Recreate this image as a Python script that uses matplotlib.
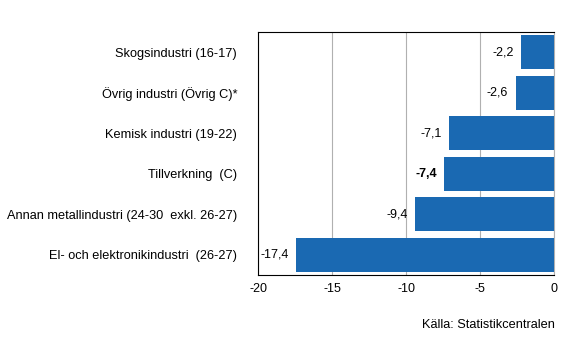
import matplotlib.pyplot as plt

plt.rcParams['font.family'] = ['Liberation Sans', 'DejaVu Sans']

# Data (top to bottom) ---------------------------------------------------------
categories = [
    "Skogsindustri (16-17)",
    "Övrig industri (Övrig C)*",
    "Kemisk industri (19-22)",
    "Tillverkning  (C)",
    "Annan metallindustri (24-30  exkl. 26-27)",
    "El- och elektronikindustri  (26-27)",
]
values = [-2.2, -2.6, -7.1, -7.4, -9.4, -17.4]
labels = ["-2,2", "-2,6", "-7,1", "-7,4", "-9,4", "-17,4"]
bold_label = "Tillverkning  (C)"

xticks = [-20, -15, -10, -5, 0]

# Plot -------------------------------------------------------------------------
fig = plt.figure(figsize=(5.66, 3.61), dpi=100)
ax = fig.add_axes([258 / 566, 1 - 275 / 361, 296 / 566, 243 / 361])

pos = list(range(len(categories)))
ax.barh(pos, values, height=0.84, color="#1a69b2", zorder=3)

for p, v, lab, cat in zip(pos, values, labels, categories):
    ax.text(v - 0.5, p, lab, ha="right", va="center", fontsize=9,
            fontweight="bold" if cat == bold_label else "normal")

ax.set_xlim(-20, 0)
ax.set_ylim(len(categories) - 0.5, -0.5)
ax.set_yticks(pos)
ax.set_yticklabels(categories, fontsize=9.2)
ax.set_xticks(xticks)
ax.set_xticklabels([str(t) for t in xticks], fontsize=9)
ax.tick_params(length=0, pad=6)
ax.tick_params(axis="y", pad=15)

ax.grid(axis="x", color="#b0b0b0", lw=0.8, zorder=0)
for s in ["left", "bottom", "top"]:
    ax.spines[s].set_color("black")
    ax.spines[s].set_linewidth(0.8)
ax.spines["right"].set_color("#b0b0b0")
ax.spines["right"].set_linewidth(0.8)

fig.text(555 / 566, 1 - 325 / 361, "Källa: Statistikcentralen", ha="right",
         va="center", fontsize=9.2)

fig.savefig("out.png", dpi=100)
